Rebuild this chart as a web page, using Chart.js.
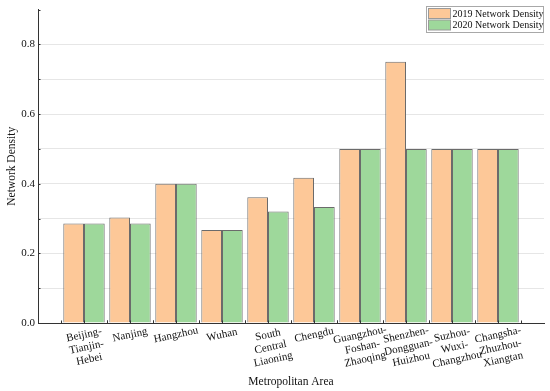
<!DOCTYPE html>
<html>
<head>
<meta charset="utf-8">
<script src="https://cdn.jsdelivr.net/npm/chart.js@4.4.1/dist/chart.umd.min.js"></script>
<style>
  html, body { margin: 0; padding: 0; background: #fff; }
  #wrap { width: 550px; height: 391px; }
</style>
</head>
<body>
<div id="wrap"><canvas id="myChart" width="550" height="391"></canvas></div>
<script>
// DATA
const categories = [
    ['Beijing-', 'Tianjin-', 'Hebei'],
    ['Nanjing'],
    ['Hangzhou'],
    ['Wuhan'],
    ['South', 'Central', 'Liaoning'],
    ['Chengdu'],
    ['Guangzhou-', 'Foshan-', 'Zhaoqing'],
    ['Shenzhen-', 'Dongguan-', 'Huizhou'],
    ['Suzhou-', 'Wuxi-', 'Changzhou'],
    ['Changsha-', 'Zhuzhou-', 'Xiangtan']
];
const density2019 = [0.286, 0.303, 0.400, 0.267, 0.361, 0.417, 0.500, 0.750, 0.500, 0.500];
const density2020 = [0.286, 0.286, 0.400, 0.267, 0.320, 0.333, 0.500, 0.500, 0.500, 0.500];
const yTicks = [0, 0.2, 0.4, 0.6, 0.8];

const FONT = "'Liberation Serif', 'Times New Roman', serif";

// blank slot on each end gives the half-category padding of the original
const labels = [''].concat(categories.map(c => c.join(' ')), ['']);
const pad = arr => [null].concat(arr, [null]);

const data = {
    labels: labels,
    datasets: [{
        label: '2019 Network Density',
        data: pad(density2019),
        backgroundColor: 'rgb(253,200,152)',
        borderColor: '#6b6b6b',
        borderWidth: 1
    }, {
        label: '2020 Network Density',
        data: pad(density2020),
        backgroundColor: 'rgb(158,216,155)',
        borderColor: '#6b6b6b',
        borderWidth: 1
    }]
};

// x labels: rotated, centred, multi-line + inward ticks + legend box
const extras = {
    id: 'extras',
    afterDraw(chart) {
        const ctx = chart.ctx;
        const x = chart.scales.x, y = chart.scales.y;
        const axisY = y.getPixelForValue(0);
        const step = x.getPixelForValue(2) - x.getPixelForValue(1);

        ctx.save();
        // small inward ticks on the x axis
        ctx.strokeStyle = '#333';
        ctx.lineWidth = 1;
        ctx.beginPath();
        for (let i = 1; i <= categories.length; i++) {
            const cx = x.getPixelForValue(i);
            [cx - step / 2, cx, cx + step / 2].forEach(px => {
                ctx.moveTo(Math.round(px) + 0.5, axisY);
                ctx.lineTo(Math.round(px) + 0.5, axisY - 2.5);
            });
        }
        // y axis minor ticks
        for (let v = 0.1; v < 0.9; v += 0.1) {
            const py = Math.round(y.getPixelForValue(v)) + 0.5;
            ctx.moveTo(y.right, py);
            ctx.lineTo(y.right + 2.5, py);
        }
        ctx.stroke();

        // category labels
        ctx.fillStyle = '#111';
        ctx.font = '11px ' + FONT;
        ctx.textAlign = 'center';
        ctx.textBaseline = 'middle';
        categories.forEach((lines, i) => {
            const cx = x.getPixelForValue(i + 1);
            ctx.save();
            ctx.translate(cx, axisY + 12);
            ctx.rotate(-12 * Math.PI / 180);
            lines.forEach((t, k) => ctx.fillText(t, 0, k * 12.5));
            ctx.restore();
        });

        // legend
        const lx = 426.5, ly = 6.5, lw = 117, lh = 26;
        ctx.fillStyle = '#fff';
        ctx.fillRect(lx, ly, lw, lh);
        ctx.strokeStyle = '#a8a8a8';
        ctx.strokeRect(lx, ly, lw, lh);
        ctx.font = '10px ' + FONT;
        ctx.textAlign = 'left';
        chart.data.datasets.forEach((ds, i) => {
            const ry = ly + 2 + i * 11.5;
            ctx.fillStyle = ds.backgroundColor;
            ctx.fillRect(lx + 2, ry, 22, 10);
            ctx.strokeStyle = '#9a9a9a';
            ctx.strokeRect(lx + 2, ry, 22, 10);
            ctx.fillStyle = '#111';
            ctx.fillText(ds.label, lx + 26, ry + 5.5);
        });
        ctx.restore();
    }
};

const config = {
    type: 'bar',
    data: data,
    options: {
        responsive: false,
        animation: false,
        layout: { padding: { top: 8, right: 6, left: 0, bottom: 0 } },
        datasets: { bar: { categoryPercentage: 0.9, barPercentage: 1.0 } },
        plugins: { legend: { display: false }, tooltip: { enabled: false } },
        scales: {
            x: {
                offset: false,
                grid: { display: false },
                border: { color: '#333', width: 1 },
                ticks: { display: false },
                title: {
                    display: true,
                    text: 'Metropolitan Area',
                    color: '#111',
                    font: { family: FONT, size: 11.5 },
                    padding: { top: 0, bottom: 2 }
                },
                afterFit: s => { s.height = 68; }
            },
            y: {
                min: 0,
                max: 0.9,
                ticks: {
                    stepSize: 0.1,
                    color: '#111',
                    padding: 3,
                    font: { family: FONT, size: 11 },
                    callback: v => yTicks.some(t => Math.abs(t - v) < 1e-6) ? v.toFixed(1) : ''
                },
                grid: {
                    drawTicks: false,
                    color: c => (c.tick.value > 0.001 && c.tick.value < 0.899) ? '#e6e6e6' : 'rgba(0,0,0,0)'
                },
                border: { color: '#333', width: 1 },
                title: {
                    display: true,
                    text: 'Network Density',
                    color: '#111',
                    font: { family: FONT, size: 11.5 },
                    padding: { top: 5, bottom: 0 }
                },
                afterFit: s => { s.width = 38; }
            }
        }
    },
    plugins: [extras]
};

var myChart = new Chart(document.getElementById('myChart'), config);
</script>
</body>
</html>
